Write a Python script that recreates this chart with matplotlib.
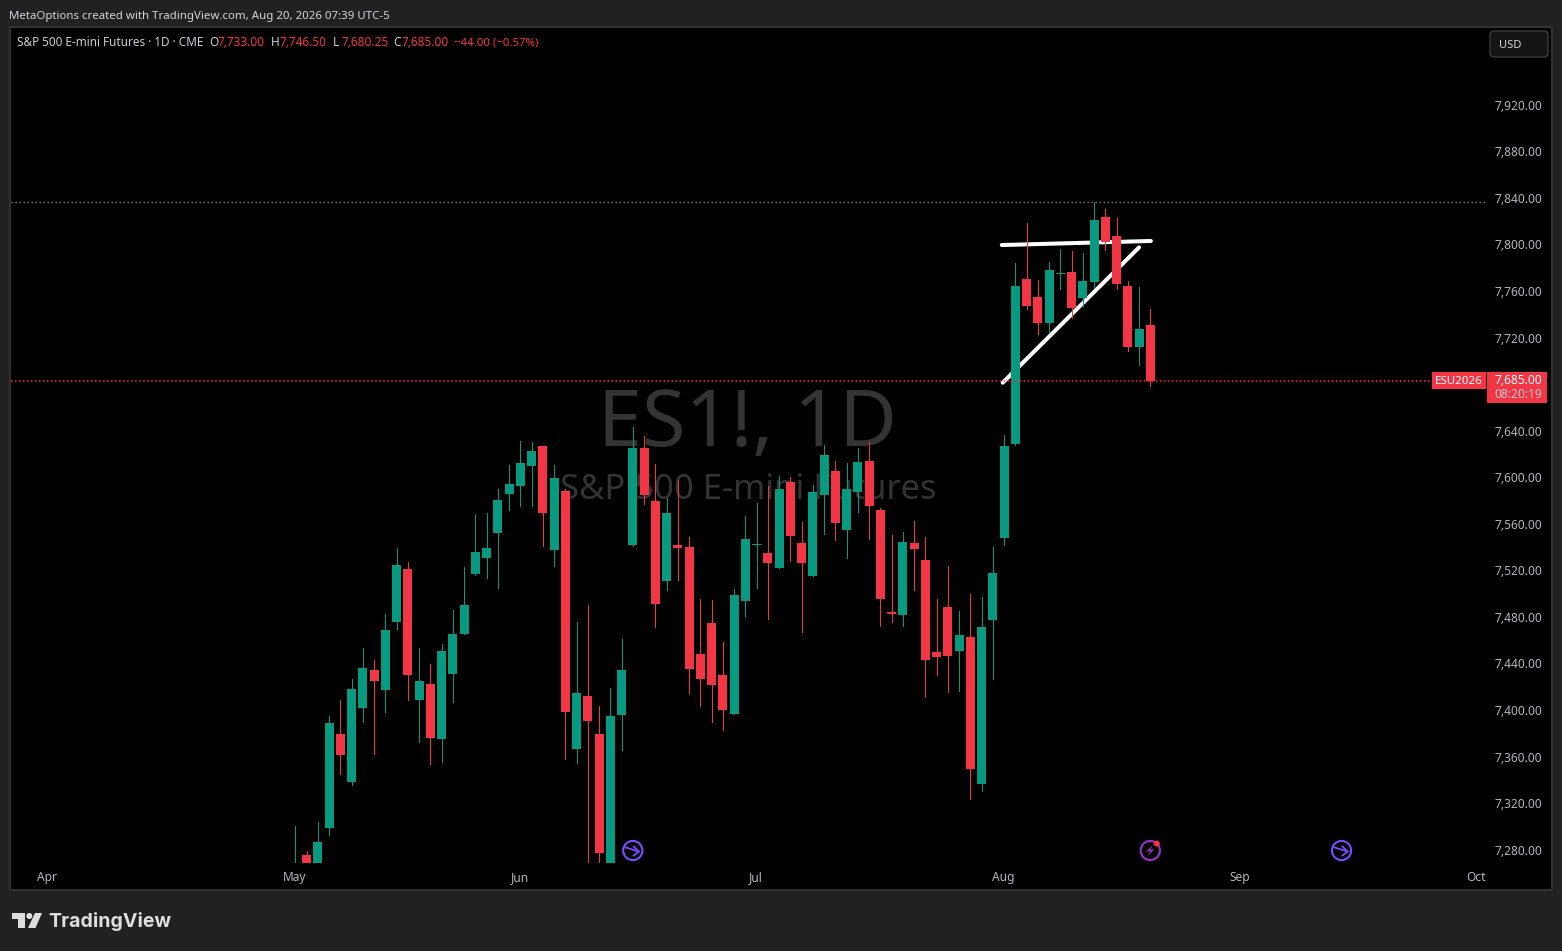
import numpy as np
import matplotlib
matplotlib.use("Agg")
import matplotlib.pyplot as plt
from matplotlib.patches import Rectangle, FancyBboxPatch, Circle, Polygon

plt.rcParams['font.family'] = ['Noto Sans', 'DejaVu Sans']

# daily candles
opens = [7255, 7277, 7262, 7300.2, 7381, 7339.7, 7403.3, 7436, 7418.8, 7477.3, 7522.8, 7410.2, 7424, 7376.7, 7432.6, 7467,
         7518.5, 7532.3, 7553.8, 7587.3, 7594.2, 7611.3, 7628.5, 7539.2, 7589.9, 7368.1, 7413.7, 7381, 7262, 7397.3,
         7543.5, 7626.8, 7581.3, 7512.5, 7543.5, 7541.7, 7449.8, 7476.4, 7431.7, 7398.2, 7495.3, 7543.5, 7536.6, 7523.7,
         7597.6, 7545.2, 7516.8, 7586.4, 7607.1, 7556.3, 7589, 7615.7, 7573.5, 7485.9, 7483.3, 7545.2, 7530.6, 7451.5,
         7490.2, 7452.3, 7464.3, 7338, 7479, 7549.5, 7630.4, 7772.2, 7756.7, 7734.4, 7776.5, 7778.2, 7755.9, 7769.6,
         7825.5, 7809.2, 7766.2, 7713.8, 7733]
highs = [7302, 7280.3, 7305.3, 7396.5, 7410.8, 7428.3, 7454.9, 7444.6, 7484.2, 7540.9, 7528.8, 7454.9, 7441.2, 7458.3, 7487.6, 7524.5,
         7570.1, 7571, 7591.6, 7612.2, 7632.8, 7632, 7628.5, 7612.2, 7591.6, 7477.3, 7491.9, 7405.1, 7420.5, 7462.7,
         7645.3, 7637.1, 7613.1, 7583.9, 7599.3, 7550.3, 7497.1, 7496.3, 7460.1, 7505.6, 7568.3, 7579.6, 7594.2, 7602.8,
         7601.9, 7563.2, 7595, 7629.4, 7615.7, 7613.9, 7626.8, 7632, 7575.3, 7552, 7554.6, 7564.1, 7550.3, 7497.1,
         7525.4, 7486.7, 7501.3, 7498.8, 7541.7, 7638, 7786, 7820.3, 7771.3, 7786.8, 7798, 7796.3, 7794.5, 7838.1,
         7832.3, 7824.6, 7770.5, 7765.3, 7746.5]
lows = [7240, 7250, 7250, 7294.2, 7346.6, 7337.2, 7391.3, 7363.8, 7399.9, 7471.3, 7410.2, 7374.1, 7355.3, 7356.9, 7408.5, 7467,
        7517.7, 7515.1, 7506.5, 7573.5, 7577, 7577, 7542.6, 7525.4, 7359.5, 7356.1, 7260, 7260, 7255, 7367.3,
        7542.6, 7578.7, 7473, 7504.8, 7513.3, 7416.3, 7405.1, 7391.3, 7384.3, 7398.2, 7482.3, 7506.5, 7479.9, 7523.7,
        7529.7, 7468.7, 7516.8, 7552.9, 7547.7, 7532.3, 7571.8, 7548.6, 7473.8, 7477.3, 7473.8, 7504.8, 7412.8, 7431.7,
        7417.1, 7418, 7325.1, 7332, 7428.3, 7543.5, 7629.5, 7746.4, 7724.9, 7725.8, 7763.6, 7738.7, 7749, 7764.5,
        7797.1, 7763.6, 7710.3, 7698.3, 7680.25]
closes = [7265, 7261, 7288.3, 7390.5, 7363, 7419.7, 7437.7, 7426.6, 7470.4, 7526.3, 7431.7, 7426.6, 7377.6, 7452.3, 7467, 7491.9,
          7537.4, 7540.9, 7582.1, 7595.9, 7613.9, 7624.3, 7571, 7601, 7399.9, 7416.3, 7392.2, 7278.7, 7396.5, 7436,
          7626.9, 7586.4, 7492.7, 7571, 7540.9, 7436.9, 7428.3, 7423.1, 7401.6, 7500.5, 7548.6, 7544.3, 7528, 7591.6,
          7551.2, 7528, 7589, 7620.8, 7562.4, 7591.6, 7614.8, 7577, 7497, 7485, 7546, 7540, 7444.6, 7447.2,
          7448.1, 7466.1, 7350.9, 7473, 7519.3, 7628.5, 7766.2, 7749, 7734.4, 7779.9, 7777.3, 7747.3, 7770.5, 7822.9,
          7804, 7767.9, 7713.8, 7729.2, 7685]

price_ticks = [7920, 7880, 7840, 7800, 7760, 7720, 7640, 7600, 7560, 7520, 7480, 7440, 7400, 7360, 7320, 7280]
month_labels = ["Apr", "May", "Jun", "Jul", "Aug", "Sep", "Oct"]
month_pos = [-22, 0, 20, 41, 63, 84, 105]

# trend lines drawn on the chart
flat_line_x = [62.8, 76.05]
flat_line_y = [7801.4, 7804.9]
rising_line_x = [62.88, 75.0]
rising_line_y = [7683.1, 7799.4]
high_level = 7838.1
last_close = 7685

# event markers on the time axis
event_pos = [30, 76, 93]

W, H = 1562, 951
GREEN = "#089981"
RED = "#F23645"
TXT = "#B2B5BE"

fig = plt.figure(figsize=(W / 100, H / 100), dpi=100, facecolor="#212121")

def px_axes(z):
    a = fig.add_axes([0, 0, 1, 1], zorder=z, facecolor="none")
    a.set_xlim(0, W)
    a.set_ylim(H, 0)
    a.axis("off")
    return a

bg = px_axes(0)
fg = px_axes(2)

# chart panel and watermark
bg.add_patch(Rectangle((10, 27), 1542, 863, fc="black", ec="#333333", lw=1.4))
bg.text(748, 425, "ES1!, 1D", color="#343434", fontsize=57, ha="center", va="center")
bg.text(748, 490, "S&P 500 E-mini Futures", color="#343434", fontsize=24.9, ha="center", va="center")

# candles
left, right, top, bottom = 11, 1487, 28, 863
ax = fig.add_axes([left / W, 1 - bottom / H, (right - left) / W, (bottom - top) / H], zorder=1, facecolor="none")
ax.axis("off")
ax.set_xlim((left - 295.3) / 11.25, (right - 295.3) / 11.25)
ax.set_ylim(7270.4, 7987.9)

o = np.array(opens)
h = np.array(highs)
l = np.array(lows)
c = np.array(closes)
x = np.arange(len(o))
colors = [GREEN if cc >= oo else RED for oo, cc in zip(o, c)]

ax.hlines(high_level, ax.get_xlim()[0], ax.get_xlim()[1], colors="#85878D", lw=1.0, linestyles=(0, (1.0, 1.88)), zorder=1)
ax.plot(flat_line_x, flat_line_y, color="white", lw=2.9, solid_capstyle="round", zorder=2)
ax.plot(rising_line_x, rising_line_y, color="white", lw=2.9, solid_capstyle="round", zorder=2)

ax.vlines(x, l, h, colors=colors, lw=0.72, antialiased=False, zorder=3)
body_low = np.minimum(o, c)
body_h = np.abs(c - o)
ax.bar(x, body_h, bottom=body_low, width=0.8, color=colors, linewidth=0, zorder=4)
for i in x:
    if body_h[i] < 1.3:
        ax.hlines(c[i], i - 0.4, i + 0.4, colors=colors[i], lw=0.72, zorder=4)

ax.hlines(last_close, ax.get_xlim()[0], ax.get_xlim()[1], colors="#FF2A3C", lw=1.1, linestyles=(0, (1.0, 1.62)), zorder=5)

# price scale, labels sit a little above the true level like the original
def y_px(p):
    return top + (7987.9 - p) / (7987.9 - 7270.4) * (bottom - top)

def x_px(i):
    return 295.3 + 11.25 * i

for p in price_ticks:
    fg.text(1542, y_px(p) - 0.7, f"{p:,.2f}", color=TXT, fontsize=8.6, ha="right", va="center")

for name, m in zip(month_labels, month_pos):
    fg.text(x_px(m) - 0.7, 877.3, name, color=TXT, fontsize=8.6, ha="center", va="center", fontweight="medium")

# USD button
fg.add_patch(FancyBboxPatch((1493, 34), 52, 20, boxstyle="round,pad=3,rounding_size=4", fc="#141414", ec="#3A3A3A", lw=1))
fg.text(1499, 45.5, "USD", color="#D1D4DC", fontsize=8.0, ha="left", va="center")

# last price tags
fg.add_patch(Rectangle((1432, 372), 54, 17, fc=RED, ec="none"))
fg.add_patch(Rectangle((1487, 372), 60, 31, fc=RED, ec="none"))
fg.text(1459, 381.5, "ESU2026", color="white", fontsize=8.3, ha="center", va="center")
fg.text(1542, 380.8, "7,685.00", color="white", fontsize=8.6, ha="right", va="center")
fg.text(1542, 395, "08:20:19", color="#FBC9CE", fontsize=8.6, ha="right", va="center")

# header lines
fg.text(9, 16, "MetaOptions created with TradingView.com, Aug 20, 2026 07:39 UTC-5", color="#D1D4DC", fontsize=8.25, ha="left", va="center")
fg.text(17, 43, "S&P 500 E-mini Futures · 1D · CME", color="#C9CCD4", fontsize=8.45, ha="left", va="center")
header = [(209, "O", "#C9CCD4"), (218, "7,733.00", RED), (271, "H", "#C9CCD4"), (280, "7,746.50", RED),
          (333, "L", "#C9CCD4"), (341, "7,680.25", RED), (393, "C", "#C9CCD4"), (401, "7,685.00", RED),
          (454, "−44.00 (−0.57%)", RED)]
for hx, s, col in header:
    fg.text(hx, 43, s, color=col, fontsize=8.2 if hx == 454 else 8.5, ha="left", va="center")

# event icons on the time axis
PURPLE = "#7B4DFF"
MAGENTA = "#A030C8"
for m, col in zip(event_pos, [PURPLE, MAGENTA, PURPLE]):
    cx, cy = x_px(m), 850.5
    fg.add_patch(Circle((cx, cy), 9.6, fc="black", ec=col, lw=1.5))
    if col == PURPLE:
        fg.plot([cx - 7, cx + 6], [cy - 3, cy + 1], color=col, lw=1.3)
        fg.plot([cx + 1, cx + 6, cx + 1], [cy - 4, cy + 1, cy + 5], color=col, lw=1.3)
    else:
        fg.add_patch(Polygon([(cx + 3, cy - 6), (cx - 4, cy + 1), (cx, cy + 1), (cx - 3, cy + 6), (cx + 4, cy - 1), (cx, cy - 1)],
                             fc=col, ec="none"))
        fg.add_patch(Circle((cx + 6.5, cy - 7), 3, fc="#F23645", ec="none", zorder=5))

# TradingView logo
LOGO = "#DEDEDE"
fg.add_patch(Polygon([(12, 913), (25, 913), (25, 928), (18, 928), (18, 919), (12, 919)], fc=LOGO, ec="none"))
fg.add_patch(Circle((29.3, 916), 3, fc=LOGO, ec="none"))
fg.add_patch(Polygon([(35, 913), (42, 913), (35.5, 928), (28, 928)], fc=LOGO, ec="none"))
fg.text(48.5, 921.5, "TradingView", color=LOGO, fontsize=14.1, ha="left", va="center", family=['Inter', 'DejaVu Sans'], fontweight="bold")

fig.savefig("out.png", dpi=100, facecolor=fig.get_facecolor())
